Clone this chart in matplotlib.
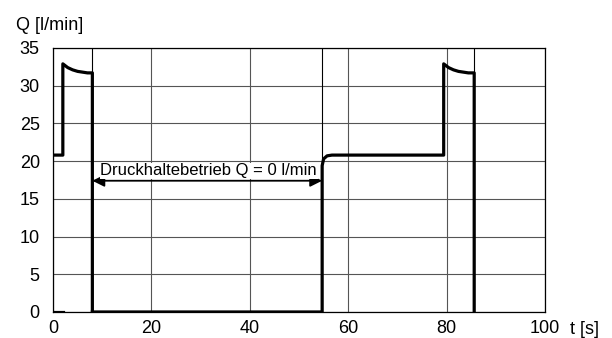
import numpy as np
import matplotlib
matplotlib.use("Agg")
import matplotlib.pyplot as plt

plt.rcParams['font.family'] = ['Liberation Sans', 'DejaVu Sans']

# Daten
t_1 = [0, 2, 2, 3, 4, 5, 6, 7, 8, 8]
q_1 = [20.8, 20.8, 32.9, 32.4, 32.1, 31.9, 31.8, 31.7, 31.7, 0]
t_2 = [8, 54.7, 54.7, 55.0, 55.7, 56.7, 79.4, 79.4, 80.4, 81.4, 82.4, 83.4, 84.4, 85.6, 85.6]
q_2 = [0, 0, 19.4, 20.3, 20.7, 20.8, 20.8, 32.9, 32.4, 32.1, 31.9, 31.8, 31.7, 31.7, 0]
t_start = [0, 2]
q_start = [0, 0]
ref_lines = [8, 54.7, 85.6]
x_ticks = [0, 20, 40, 60, 80, 100]
y_ticks = [0, 5, 10, 15, 20, 25, 30, 35]
arrow_y = 17.4
text = "Druckhaltebetrieb Q = 0 l/min"

fig = plt.figure(figsize=(6.12, 3.38), dpi=100)
ax = fig.add_axes([0.0866, 0.077, 0.804, 0.781])

ax.set_xlim(0, 100)
ax.set_ylim(0, 35)
ax.set_xticks(x_ticks)
ax.set_yticks(y_ticks)
ax.tick_params(length=0, labelsize=13)
ax.tick_params(axis="x", pad=6)
ax.tick_params(axis="y", pad=9.5)
ax.grid(True, color="#555555", lw=0.8)
for xv in ref_lines:
    ax.axvline(xv, color="black", lw=0.8)
for s in ax.spines.values():
    s.set_linewidth(0.9)

ax.plot(t_1, q_1, color="black", lw=2.3, solid_joinstyle="round")
ax.plot(t_2, q_2, color="black", lw=2.3, solid_joinstyle="round")
ax.plot(t_start, q_start, color="black", lw=2.3)

ax.annotate("", xy=(ref_lines[0], arrow_y), xytext=(ref_lines[1], arrow_y),
            arrowprops=dict(arrowstyle="<|-|>", color="black", lw=1.3,
                            mutation_scale=18, shrinkA=0, shrinkB=0))
ax.text(9.6, arrow_y + 1.3, text, fontsize=12, va="center", ha="left",
        bbox=dict(facecolor="white", edgecolor="none", pad=0.5))

fig.text(0.026, 0.926, "Q [l/min]", fontsize=13, ha="left", va="center")
fig.text(0.931, 0.024, "t [s]", fontsize=13, ha="left", va="center")

fig.savefig("out.png", dpi=100)
